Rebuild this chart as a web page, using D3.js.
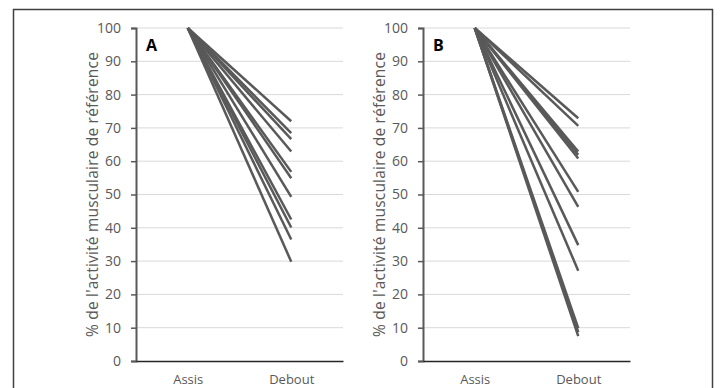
<!doctype html>
<html lang="fr">
   <head>
      <meta charset="utf-8">
      <title>Activité musculaire assis / debout</title>
      <script src="https://d3js.org/d3.v7.min.js"></script>
      <style>
         body { margin: 0; background: #fff; }
         text { font-family: "Open Sans", sans-serif; }
      </style>
   </head>
   <body>
      <svg id="chart" width="720" height="388"></svg>
      <script>
      // categories and tick labels
      var positions = ["Assis", "Debout"];
      var yTicks = [0, 10, 20, 30, 40, 50, 60, 70, 80, 90, 100];
      var yTitle = "% de l'activité musculaire de référence";

      // each subject goes from 100 (Assis) to the value below (Debout)
      var startValue = 100;
      var endA = [72, 68.4, 66.6, 62.9, 56.8, 54.9, 49.3, 42.5, 40.1, 36.5, 29.8];
      var endB = [72.9, 70.6, 62.9, 61.9, 60.8, 50.8, 46.3, 34.8, 27.1, 9.9, 8.7, 7.5];

      var svg = d3.select("#chart");

      // outer frame
      svg.append("rect")
         .attr("x", 13.5).attr("y", 9.5)
         .attr("width", 699).attr("height", 400)
         .attr("fill", "none")
         .attr("stroke", "#404040")
         .attr("stroke-width", 1.5);

      function panel(letter, ends, left, titleX) {
         var x = d3.scalePoint().domain(positions).range([left, left + 207]).padding(0.5);
         var y = d3.scaleLinear().domain([0, 100]).range([361, 28]);

         var g = svg.append("g");

         // gridlines
         g.selectAll("line.grid")
            .data(yTicks.filter(function(d) { return d > 0; }))
            .enter().append("line")
            .attr("class", "grid")
            .attr("x1", left).attr("x2", left + 207)
            .attr("y1", function(d) { return y(d); })
            .attr("y2", function(d) { return y(d); })
            .attr("stroke", "#d9d9d9")
            .attr("stroke-width", 1);

         // y axis
         var yAxis = g.append("g")
            .attr("transform", "translate(" + left + ",0)")
            .call(d3.axisLeft(y).tickValues(yTicks).tickSize(5).tickPadding(10));
         yAxis.select(".domain").attr("stroke", "#595959").attr("stroke-width", 2);
         yAxis.selectAll(".tick line").attr("stroke", "#595959").attr("stroke-width", 1.5);
         yAxis.selectAll(".tick text")
            .attr("fill", "#595959")
            .style("font-size", "14px")
            .style("font-family", "'Open Sans', sans-serif");

         // x axis baseline
         var xAxis = g.append("g")
            .attr("transform", "translate(0," + y(0) + ")")
            .call(d3.axisBottom(x).tickSize(0).tickPadding(14));
         xAxis.select(".domain").attr("stroke", "#262626").attr("stroke-width", 1.5);
         xAxis.selectAll(".tick text")
            .attr("fill", "#595959")
            .style("font-size", "13px")
            .style("font-family", "'Open Sans', sans-serif");

         // subject lines
         g.selectAll("line.subject")
            .data(ends)
            .enter().append("line")
            .attr("class", "subject")
            .attr("x1", x(positions[0])).attr("y1", y(startValue))
            .attr("x2", x(positions[1]))
            .attr("y2", function(d) { return y(d); })
            .attr("stroke", "#595959")
            .attr("stroke-width", 2.5);

         // panel letter
         g.append("text")
            .attr("x", left + 10).attr("y", 51)
            .attr("font-weight", "bold")
            .attr("font-size", 16)
            .attr("fill", "#000")
            .text(letter);

         // y title
         g.append("text")
            .attr("transform", "translate(" + titleX + "," + y(50) + ") rotate(-90)")
            .attr("text-anchor", "middle")
            .attr("font-size", 15.5)
            .attr("letter-spacing", 0.2)
            .attr("fill", "#595959")
            .text(yTitle);
      }

      panel("A", endA, 136, 98);
      panel("B", endB, 423, 385);
      </script>
   </body>
</html>
